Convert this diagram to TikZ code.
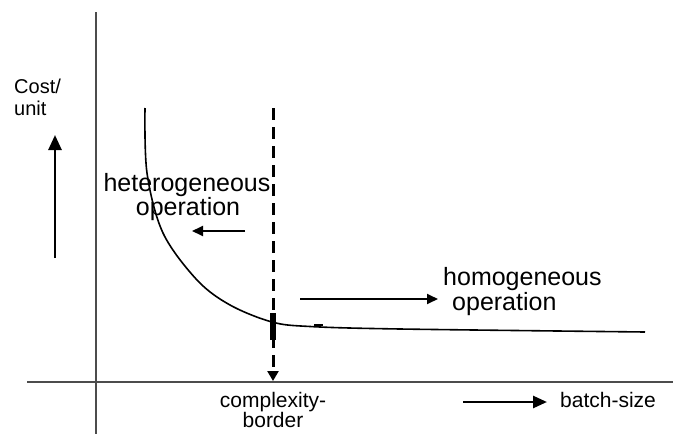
\documentclass[tikz,border=0pt]{standalone}
\usepackage{fontspec}
\setmainfont{Liberation Sans}
\usetikzlibrary{arrows.meta}
\begin{document}
\begin{tikzpicture}[x=1pt,y=-1pt,
  big/.style={inner sep=0pt,anchor=base,font=\fontsize{25}{29}\selectfont},
  small/.style={inner sep=0pt,anchor=base,font=\fontsize{21}{24}\selectfont},
  axis/.style={draw=black!70,line width=1.2pt},
  thickarrow/.style={line width=2.6pt,-{Triangle[length=15pt,width=13pt]}},
  thinarrow/.style={line width=1.8pt,-{Triangle[length=11pt,width=10pt]}},
  curve/.style={line width=1.6pt}]
\useasboundingbox (0,0) rectangle (673,434);
% axes
\coordinate (vtop) at (96,12);
\coordinate (vbot) at (96,434);
\coordinate (hl) at (27,382);
\coordinate (hr) at (673,382);
\draw[axis] (vtop) -- (vbot);
\draw[axis] (hl) -- (hr);
% y label and arrow
\node[small,anchor=base west,font=\fontsize{20}{22}\selectfont] (cost) at (14,93) {Cost/};
\node[small,anchor=base west,font=\fontsize{20}{22}\selectfont] (unit) at (14,115) {unit};
\coordinate (ua0) at (55,258);
\coordinate (ua1) at (55,135);
\draw[thickarrow] (ua0) -- (ua1);
% curve
\draw[curve] plot[smooth,tension=0.55] coordinates {(145,108) (147,173) (163,233) (197,280) (230,305) (272,322) (310,326.5) (400,329) (645,332)};
\coordinate (t0) at (314,325);
\coordinate (t1) at (323,325);
\draw[line width=1.2pt] (t0) -- (t1);
% dashed border
\coordinate (d0) at (273,108);
\coordinate (d1) at (273,381);
\draw[line width=3pt,dash pattern=on 12pt off 7pt,-{Triangle[length=10pt,width=11pt]}] (d0) -- (d1);
\coordinate (b0) at (273,313);
\coordinate (b1) at (273,340);
\draw[line width=6pt] (b0) -- (b1);
% heterogeneous
\node[big] (het1) at (187,191) {heterogeneous};
\node[big] (het2) at (188,215) {operation};
\coordinate (la0) at (245,231);
\coordinate (la1) at (192,231);
\draw[thinarrow] (la0) -- (la1);
% homogeneous
\node[big,anchor=base west] (hom1) at (443,285) {homogeneous};
\node[big,anchor=base west] (hom2) at (452,310) {operation};
\coordinate (ra0) at (300,299);
\coordinate (ra1) at (438,299);
\draw[thinarrow] (ra0) -- (ra1);
% x labels
\node[small] (cx1) at (273,407) {complexity-};
\node[small] (cx2) at (273,427) {border};
\coordinate (xa0) at (463,402);
\coordinate (xa1) at (547,402);
\draw[line width=2.6pt,-{Triangle[length=14pt,width=12pt]}] (xa0) -- (xa1);
\node[small,anchor=base west] (bs) at (560,407) {batch-size};
\end{tikzpicture}
\end{document}
